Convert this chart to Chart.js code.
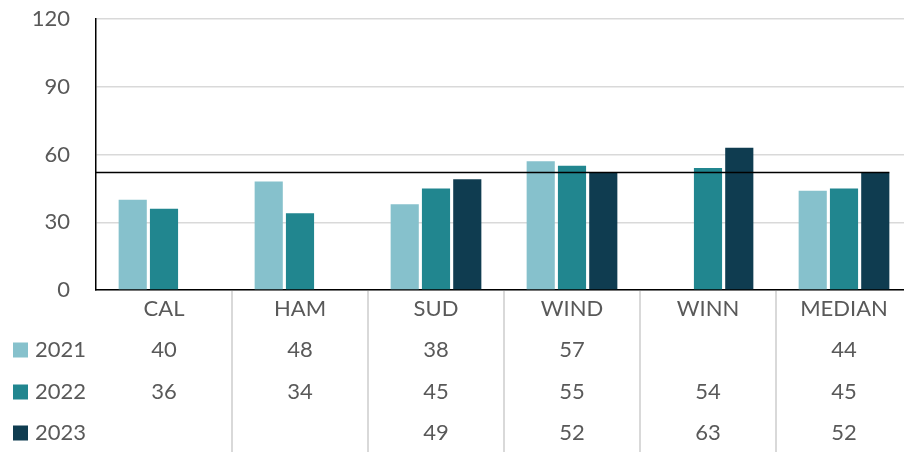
<!DOCTYPE html>
<html>
<head>
<meta charset="utf-8">
<script src="https://cdn.jsdelivr.net/npm/chart.js@4"></script>
<style>
  html, body { margin: 0; padding: 0; background: #fff; overflow: hidden; }
  #wrap { width: 912px; height: 452px; }
</style>
</head>
<body>
<div id="wrap"><canvas id="chart"></canvas></div>
<script>
// Chart data
const categories = ['CAL', 'HAM', 'SUD', 'WIND', 'WINN', 'MEDIAN'];
const seriesNames = ['2021', '2022', '2023'];
const values2021 = [40, 48, 38, 57, null, 44];
const values2022 = [36, 34, 45, 55, 54, 45];
const values2023 = [null, null, 49, 52, 63, 52];
const yTicks = [0, 30, 60, 90, 120];
const referenceLine = 52;

const colors = ['#86C1CC', '#21868F', '#0F3C50'];
const textColor = '#595959';
const fontFamily = 'Lato, "Open Sans", sans-serif';
const allSeries = [values2021, values2022, values2023];

// horizontal reference line over the bars
const refLinePlugin = {
    id: 'refLine',
    afterDatasetsDraw(chart) {
        const { ctx, chartArea, scales: { y } } = chart;
        const meta = chart.getDatasetMeta(2);
        const last = meta.data[meta.data.length - 1];
        const yPx = y.getPixelForValue(referenceLine);
        ctx.save();
        ctx.strokeStyle = '#000';
        ctx.lineWidth = 1.5;
        ctx.beginPath();
        ctx.moveTo(chartArea.left, yPx);
        ctx.lineTo(last.x + last.width / 2, yPx);
        ctx.stroke();
        ctx.restore();
    }
};

// data table under the chart
const tablePlugin = {
    id: 'dataTable',
    afterDraw(chart) {
        const { ctx, chartArea, scales: { x } } = chart;
        const step = x.getPixelForValue(1) - x.getPixelForValue(0);
        const top = chartArea.bottom;
        const rowY = [top + 19, top + 60, top + 102, top + 143];

        ctx.save();
        // separators
        ctx.strokeStyle = '#D9D9D9';
        ctx.lineWidth = 2;
        for (let i = 1; i <= categories.length; i++) {
            const sx = x.getPixelForValue(i) - step / 2;
            ctx.beginPath();
            ctx.moveTo(sx, top + 1);
            ctx.lineTo(sx, chart.height);
            ctx.stroke();
        }

        ctx.font = '22px ' + fontFamily;
        ctx.fillStyle = textColor;
        ctx.textAlign = 'center';
        ctx.textBaseline = 'middle';
        categories.forEach((c, i) => {
            ctx.fillText(c, x.getPixelForValue(i), rowY[0]);
        });

        allSeries.forEach((vals, s) => {
            // legend key
            ctx.fillStyle = colors[s];
            ctx.fillRect(13, rowY[s + 1] - 7.5, 15, 15);
            ctx.fillStyle = textColor;
            ctx.textAlign = 'left';
            ctx.fillText(seriesNames[s], 35, rowY[s + 1]);
            ctx.textAlign = 'center';
            vals.forEach((v, i) => {
                if (v !== null) ctx.fillText(String(v), x.getPixelForValue(i), rowY[s + 1]);
            });
        });
        ctx.restore();
    }
};

new Chart(document.getElementById('chart'), {
    type: 'bar',
    data: {
        labels: categories,
        datasets: allSeries.map((vals, s) => ({
            label: seriesNames[s],
            data: vals,
            backgroundColor: colors[s],
            borderWidth: 0,
            categoryPercentage: 0.69,
            barPercentage: 0.9
        }))
    },
    options: {
        responsive: true,
        maintainAspectRatio: false,
        animation: false,
        layout: { padding: { top: 19, bottom: 162, left: 0, right: 0 } },
        plugins: {
            legend: { display: false },
            tooltip: { enabled: false }
        },
        scales: {
            x: {
                grid: { display: false },
                border: { display: true, color: '#000', width: 1.5 },
                ticks: { display: false },
                afterFit: s => { s.height = 0; }
            },
            y: {
                min: yTicks[0],
                max: yTicks[yTicks.length - 1],
                afterBuildTicks: s => { s.ticks = yTicks.map(v => ({ value: v })); },
                grid: { color: '#D9D9D9', lineWidth: 1.5, drawTicks: false },
                border: { display: true, color: '#000', width: 1.5 },
                ticks: {
                    padding: 26,
                    color: textColor,
                    font: { family: fontFamily, size: 22 }
                },
                afterFit: s => { s.width = 96; s.paddingTop = 0; }
            }
        }
    },
    plugins: [refLinePlugin, tablePlugin]
});
</script>
</body>
</html>
